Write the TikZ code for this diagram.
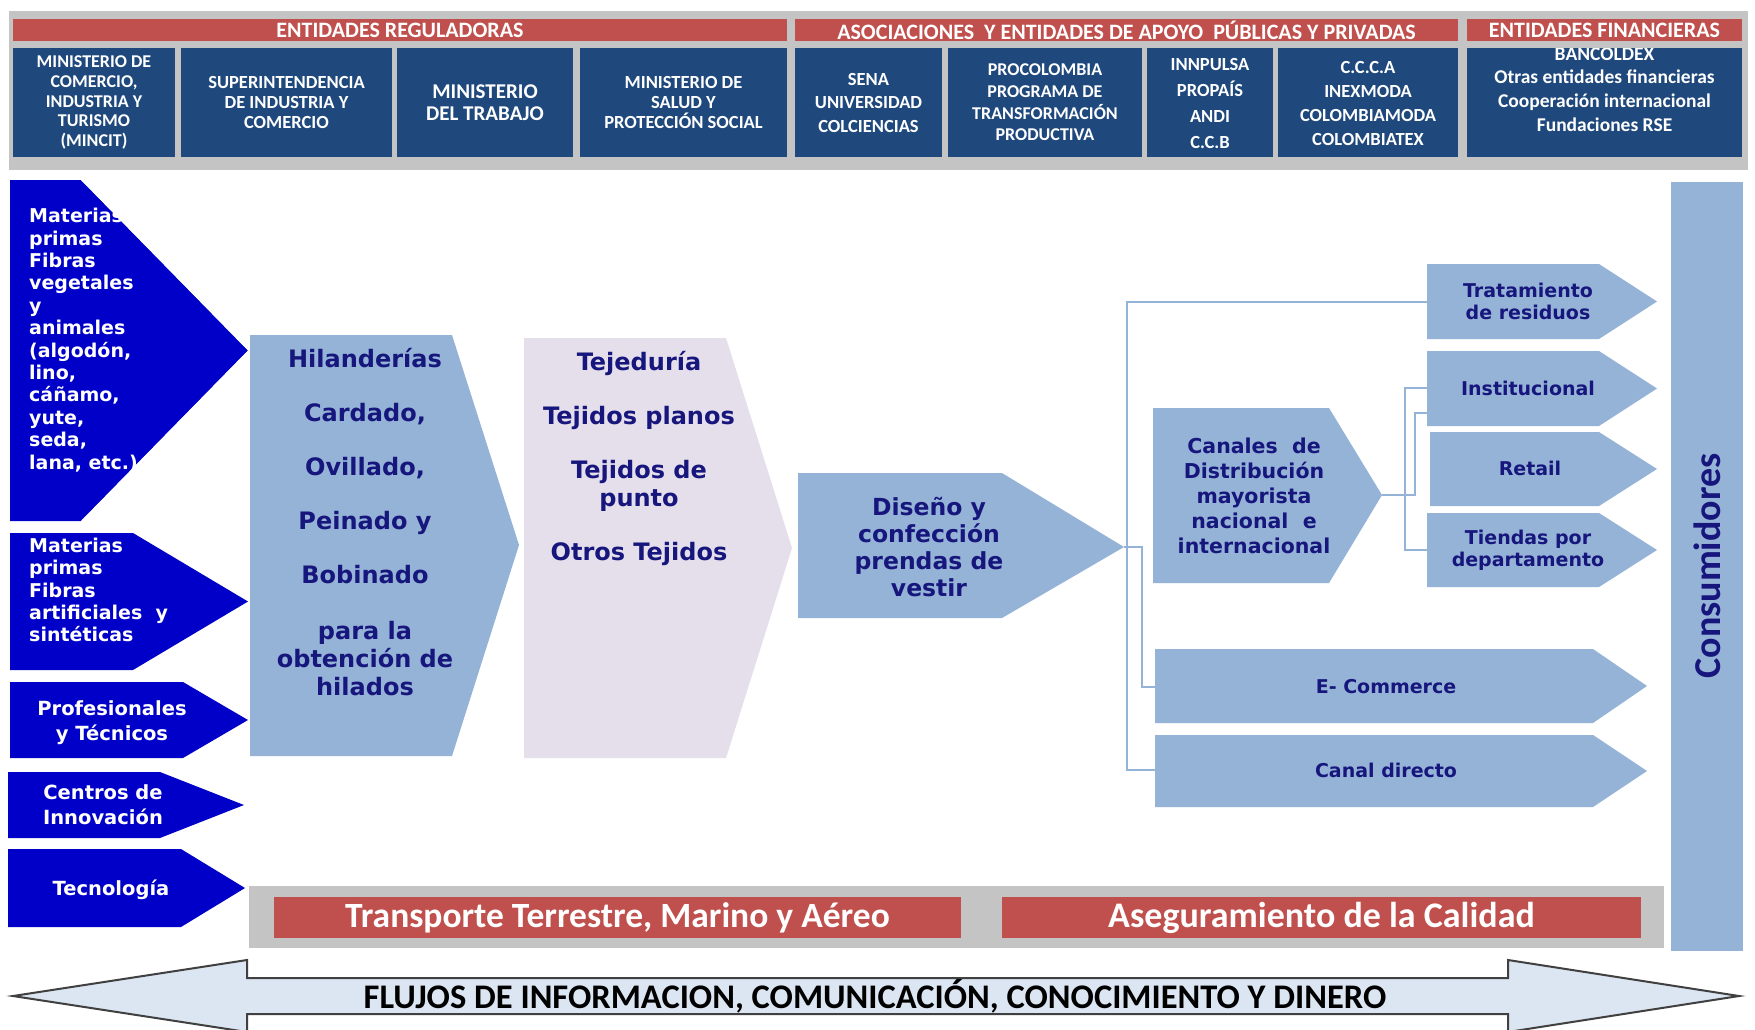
\documentclass[tikz,border=0pt]{standalone}
\usepackage{fontspec}
\newfontfamily\vfont{DejaVu Sans}
\newfontfamily\cfont{Carlito}
\definecolor{hdrblue}{HTML}{1F497D}
\definecolor{hdrred}{HTML}{C0504D}
\definecolor{bandgray}{HTML}{C4C4C4}
\definecolor{arrblue}{RGB}{0,0,200}
\definecolor{ltblue}{HTML}{95B3D7}
\definecolor{lavender}{HTML}{E5DFEC}
\definecolor{navy}{RGB}{22,22,125}
\definecolor{flowfill}{HTML}{DCE6F2}
\definecolor{flowline}{HTML}{404040}
\begin{document}
\begin{tikzpicture}[x=1pt,y=-1pt,
  redband/.style={fill=hdrred,inner sep=0,text=white,font=\cfont\bfseries\fontsize{22}{22}\selectfont},
  bluebox/.style={fill=hdrblue,inner sep=0,minimum height=109},
  boxtext/.style={text=white,inner sep=0,align=center},
  leftarrow/.style={fill=arrblue},
  lefttext/.style={text=white,inner sep=0,font=\vfont\bfseries\fontsize{19}{22.4}\selectfont},
  flowtext/.style={text=navy,inner sep=0,align=center,font=\vfont\bfseries\fontsize{24}{27.5}\selectfont},
  sidetext/.style={text=navy,inner sep=0,align=center,font=\vfont\bfseries\fontsize{19}{22}\selectfont},
  conn/.style={draw=ltblue,line width=2.2},
  redbox/.style={fill=hdrred,inner sep=0,minimum height=41,text=white},
]
\useasboundingbox (0,0) rectangle (1755,1029);
\clip (0,0) rectangle (1755,1029);
\fill[white] (0,0) rectangle (1755,1029);

% ---------- header ----------
\fill[bandgray] (9,11) rectangle (1748,170);
\node[redband,minimum width=774,minimum height=22] (r1) at (400,30) {ENTIDADES REGULADORAS};
\node[redband,minimum width=663,minimum height=22] (r2) at (1126.5,30) {ASOCIACIONES\ \ Y ENTIDADES DE APOYO\ \ PÚBLICAS Y PRIVADAS};
\node[redband,minimum width=275,minimum height=22] (r3) at (1604.5,30) {ENTIDADES FINANCIERAS};

\node[bluebox,minimum width=162] (b1) at (94,102.5) {};
\node[bluebox,minimum width=211] (b2) at (286.5,102.5) {};
\node[bluebox,minimum width=176] (b3) at (485,102.5) {};
\node[bluebox,minimum width=207] (b4) at (683.5,102.5) {};
\node[bluebox,minimum width=147] (b5) at (868.5,102.5) {};
\node[bluebox,minimum width=194] (b6) at (1045,102.5) {};
\node[bluebox,minimum width=126] (b7) at (1210,102.5) {};
\node[bluebox,minimum width=180] (b8) at (1368,102.5) {};
\node[bluebox,minimum width=275] (b9) at (1604.5,102.5) {};

\node[boxtext,font=\cfont\bfseries\fontsize{18}{19.6}\selectfont] (t1) at (b1) {MINISTERIO DE\\COMERCIO,\\INDUSTRIA Y\\TURISMO\\(MINCIT)};
\node[boxtext,font=\cfont\bfseries\fontsize{18.5}{20}\selectfont] (t2) at (b2) {SUPERINTENDENCIA\\DE INDUSTRIA Y\\COMERCIO};
\node[boxtext,font=\cfont\bfseries\fontsize{21}{22.4}\selectfont] (t3) at (b3) {MINISTERIO\\DEL TRABAJO};
\node[boxtext,font=\cfont\bfseries\fontsize{18.5}{20}\selectfont] (t4) at (b4) {MINISTERIO DE\\SALUD Y\\PROTECCIÓN SOCIAL};
\node[boxtext,font=\cfont\bfseries\fontsize{18.5}{23.5}\selectfont] (t5) at (b5) {SENA\\UNIVERSIDAD\\COLCIENCIAS};
\node[boxtext,font=\cfont\bfseries\fontsize{18}{21.7}\selectfont] (t6) at (b6) {PROCOLOMBIA\\PROGRAMA DE\\TRANSFORMACIÓN\\PRODUCTIVA};
\node[boxtext,font=\cfont\bfseries\fontsize{18.5}{25.7}\selectfont] (t7) at ([yshift=-1]b7) {INNPULSA\\PROPAÍS\\ANDI\\C.C.B};
\node[boxtext,font=\cfont\bfseries\fontsize{18.5}{24.3}\selectfont] (t8) at ([yshift=-1]b8) {C.C.C.A\\INEXMODA\\COLOMBIAMODA\\COLOMBIATEX};
\begin{scope}
\clip (1467,48) rectangle (1742,157);
\node[boxtext,font=\cfont\bfseries\fontsize{19.5}{23.8}\selectfont] (t9) at (1604.5,89.5) {BANCOLDEX\\Otras entidades financieras\\Cooperación internacional\\Fundaciones RSE};
\end{scope}

% ---------- left input arrows ----------
\fill[leftarrow] (10,180) -- (81,180) -- (248,350.5) -- (81,521) -- (10,521) -- cycle;
\node[lefttext,align=left,anchor=west] (in1) at (29,340) {Materias\\primas\\Fibras\\vegetales\\y\\animales\\(algodón,\\lino,\\cáñamo,\\yute,\\seda,\\lana, etc.)};
\fill[white] (81,180) -- (248,350.5) -- (248,180) -- cycle;
\fill[white] (81,521) -- (248,350.5) -- (248,521) -- cycle;

\fill[leftarrow] (10,533) -- (133,533) -- (248,601.5) -- (133,670) -- (10,670) -- cycle;
\node[lefttext,align=left,anchor=west] (in2) at (29,590) {Materias\\primas\\Fibras\\artificiales\ \ y\\sintéticas};

\fill[leftarrow] (10,682) -- (183,682) -- (248,720) -- (183,758) -- (10,758) -- cycle;
\node[lefttext,align=center,font=\vfont\bfseries\fontsize{19.5}{25}\selectfont] (in3) at (112,723) {Profesionales\\y Técnicos};

\fill[leftarrow] (8,772) -- (160,772) -- (244,805) -- (160,838) -- (8,838) -- cycle;
\node[lefttext,align=center,font=\vfont\bfseries\fontsize{19.5}{25}\selectfont] (in4) at (103,805) {Centros de\\Innovación};

\fill[leftarrow] (8,849) -- (181,849) -- (245,888) -- (181,927) -- (8,927) -- cycle;
\node[lefttext,font=\vfont\bfseries\fontsize{19.5}{25}\selectfont] (in5) at (111,890) {Tecnología};

% ---------- main flow ----------
\fill[ltblue] (250,335) -- (452,335) -- (519,545) -- (452,756) -- (250,756) -- cycle;
\node[flowtext,font=\vfont\bfseries\fontsize{24}{28}\selectfont] (hil) at (365,522) {Hilanderías\\[26pt]Cardado,\\[26pt]Ovillado,\\[26pt]Peinado y\\[26pt]Bobinado\\[28pt]para la\\obtención de\\hilados};

\fill[lavender] (524,338) -- (726,338) -- (792,548) -- (726,758) -- (524,758) -- cycle;
\node[flowtext] (tej) at (639,458) {Tejeduría\\[26.5pt]Tejidos planos\\[27pt]Tejidos de\\punto\\[26.5pt]Otros Tejidos};

\fill[ltblue] (798,473) -- (1002,473) -- (1124,547) -- (1002,618) -- (798,618) -- cycle;
\node[flowtext,font=\vfont\bfseries\fontsize{23.5}{27}\selectfont] (dis) at (929,547) {Diseño y\\confección\\prendas de\\vestir};
\coordinate (dis-e) at (1124,547);

\fill[ltblue] (1153,408) -- (1329,408) -- (1382,495) -- (1329,583) -- (1153,583) -- cycle;
\node[flowtext,font=\vfont\bfseries\fontsize{20.5}{25}\selectfont] (can) at (1254,496) {Canales\ \ de\\Distribución\\mayorista\\nacional\ \ e\\internacional};
\coordinate (can-e) at (1382,495);

% right side arrows
\fill[ltblue] (1427,264) -- (1599,264) -- (1657,301.5) -- (1599,339) -- (1427,339) -- cycle;
\node[sidetext] (trat) at (1528,301) {Tratamiento\\de residuos};
\coordinate (trat-w) at (1427,302);

\fill[ltblue] (1427,351) -- (1599,351) -- (1657,388.5) -- (1599,426) -- (1427,426) -- cycle;
\node[sidetext] (ins) at (1528,388) {Institucional};
\coordinate (ins-w1) at (1427,388);
\coordinate (ins-w2) at (1427,413);

\fill[ltblue] (1430,432) -- (1599,432) -- (1657,469) -- (1599,506) -- (1430,506) -- cycle;
\node[sidetext] (ret) at (1530,468) {Retail};

\fill[ltblue] (1427,513) -- (1599,513) -- (1657,550) -- (1599,587) -- (1427,587) -- cycle;
\node[sidetext] (tie) at (1528,550) {Tiendas por\\departamento};
\coordinate (tie-w) at (1427,550);

\fill[ltblue] (1155,649) -- (1593,649) -- (1647,686) -- (1593,723) -- (1155,723) -- cycle;
\node[sidetext] (ecom) at (1386,687) {E- Commerce};
\coordinate (ec-w) at (1155,687);

\fill[ltblue] (1155,735) -- (1593,735) -- (1647,771) -- (1593,807) -- (1155,807) -- cycle;
\node[sidetext] (cdir) at (1386,770) {Canal directo};
\coordinate (cd-w) at (1155,770);

% connectors
\draw[conn] (trat-w) -- ++(-300,0) |- (cd-w);
\draw[conn] (dis-e) -- ++(18,0) |- (ec-w);
\draw[conn] (can-e) -- ++(33,0) |- (ins-w2);
\draw[conn] (ins-w1) -- ++(-22,0) |- (tie-w);

% consumidores
\fill[ltblue] (1671,182) rectangle (1743,951);
\node[text=navy,inner sep=0,rotate=90,font=\cfont\bfseries\fontsize{38}{40}\selectfont] (cons) at (1707,566) {Consumidores};

% ---------- bottom band ----------
\fill[bandgray] (249,886) rectangle (1664,948);
\node[redbox,minimum width=687,font=\cfont\bfseries\fontsize{35.5}{38}\selectfont] (trans) at (617.5,917.5) {Transporte Terrestre, Marino y Aéreo};
\node[redbox,minimum width=639,font=\cfont\bfseries\fontsize{36}{38}\selectfont] (aseg) at (1321.5,917.5) {Aseguramiento de la Calidad};

% ---------- flows double arrow ----------
\filldraw[fill=flowfill,draw=flowline,line width=2] (13,996) -- (247,960) -- (247,978) -- (1508,978) -- (1508,960) -- (1739,996) -- (1508,1032) -- (1508,1014) -- (247,1014) -- (247,1032) -- cycle;
\node[inner sep=0,font=\cfont\bfseries\fontsize{34.5}{36}\selectfont] (flujos) at (875,996) {FLUJOS DE INFORMACION, COMUNICACIÓN, CONOCIMIENTO Y DINERO};
\end{tikzpicture}
\end{document}
